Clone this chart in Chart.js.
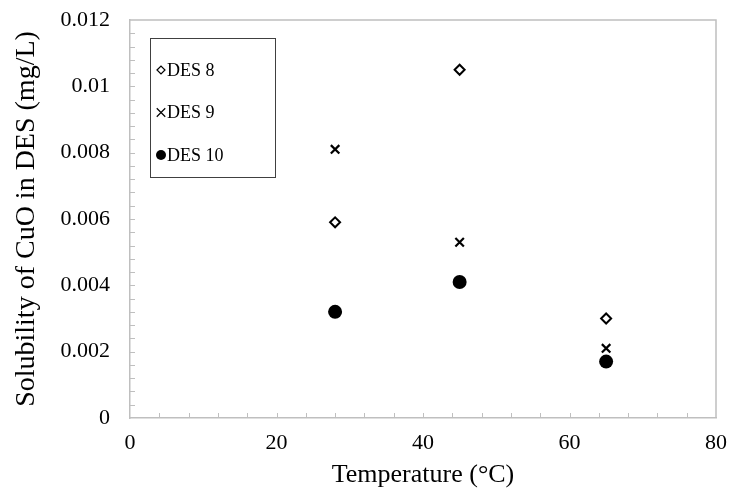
<!DOCTYPE html>
<html>
<head>
<meta charset="utf-8">
<script src="https://cdn.jsdelivr.net/npm/chart.js@4"></script>
<style>
  html, body { margin: 0; padding: 0; background: #fff; }
  #wrap { width: 731px; height: 501px; }
</style>
</head>
<body>
<div id="wrap"><canvas id="solChart" width="731" height="501"></canvas></div>
<script>
// temperatures (°C)
const temps = [28, 45, 65];
// solubility of CuO in DES (mg/L)
const des8 = [0.0059, 0.0105, 0.0030];
const des9 = [0.0081, 0.0053, 0.0021];
const des10 = [0.0032, 0.0041, 0.0017];
const seriesNames = ['DES 8', 'DES 9', 'DES 10'];
const xTicks = [0, 20, 40, 60, 80];
const yTicks = [0, 0.002, 0.004, 0.006, 0.008, 0.01, 0.012];

const FONT = "'Liberation Serif', 'Times New Roman', serif";
const AXIS_GRAY = '#bfbfbf';

function toPoints(values) {
    return temps.map((t, i) => ({ x: t, y: values[i] }));
}

// inside minor ticks + top/right border of the plot area
const frameTicks = {
    id: 'frameTicks',
    afterDatasetsDraw(chart) {
        const { ctx, chartArea: a, scales } = chart;
        ctx.save();
        ctx.strokeStyle = AXIS_GRAY;
        ctx.lineWidth = 1.5;
        ctx.beginPath();
        ctx.moveTo(a.left, a.top);
        ctx.lineTo(a.right, a.top);
        ctx.lineTo(a.right, a.bottom);
        ctx.stroke();

        ctx.lineWidth = 1;
        ctx.beginPath();
        for (let v = 4; v < 80; v += 4) {
            const px = Math.round(scales.x.getPixelForValue(v)) + 0.5;
            ctx.moveTo(px, a.bottom);
            ctx.lineTo(px, a.bottom - 5);
        }
        for (let k = 1; k < 30; k++) {
            const py = Math.round(scales.y.getPixelForValue(k * 0.0004)) + 0.5;
            ctx.moveTo(a.left, py);
            ctx.lineTo(a.left + 5, py);
        }
        ctx.stroke();
        ctx.restore();
    }
};

// boxed legend inside the plot, like the spreadsheet one
const boxLegend = {
    id: 'boxLegend',
    afterDraw(chart) {
        const { ctx, chartArea: a } = chart;
        const left = a.left + 20, top = a.top + 18;
        const w = 125, h = 139;
        ctx.save();
        ctx.fillStyle = '#fff';
        ctx.fillRect(left, top, w, h);
        ctx.strokeStyle = '#404040';
        ctx.lineWidth = 1;
        ctx.strokeRect(left + 0.5, top + 0.5, w, h);

        ctx.font = '18px ' + FONT;
        ctx.textBaseline = 'middle';
        chart.data.datasets.forEach((ds, i) => {
            const cy = top + 32 + i * 42.5;
            const cx = left + 11;
            ctx.strokeStyle = ds.borderColor;
            ctx.fillStyle = ds.backgroundColor;
            ctx.lineWidth = ds.legendBorder;
            Chart.helpers.drawPoint(ctx, {
                pointStyle: ds.pointStyle,
                radius: ds.legendRadius,
                rotation: 0,
                borderWidth: ds.legendBorder
            }, cx, cy);
            ctx.fillStyle = '#000';
            ctx.fillText(ds.label, cx + 6, cy + 1);
        });
        ctx.restore();
    }
};

new Chart(document.getElementById('solChart'), {
    type: 'scatter',
    data: {
        datasets: [
            {
                label: seriesNames[0],
                data: toPoints(des8),
                pointStyle: 'rectRot',
                pointRadius: 5,
                pointBorderWidth: 2,
                borderColor: '#000',
                backgroundColor: '#fff',
                legendRadius: 4,
                legendBorder: 1.2
            },
            {
                label: seriesNames[1],
                data: toPoints(des9),
                pointStyle: 'crossRot',
                pointRadius: 6,
                pointBorderWidth: 2.2,
                borderColor: '#000',
                backgroundColor: '#000',
                legendRadius: 6,
                legendBorder: 1.2
            },
            {
                label: seriesNames[2],
                data: toPoints(des10),
                pointStyle: 'circle',
                pointRadius: 7,
                pointBorderWidth: 0,
                borderColor: '#000',
                backgroundColor: '#000',
                legendRadius: 5,
                legendBorder: 0
            }
        ]
    },
    options: {
        responsive: false,
        animation: false,
        layout: { padding: { top: 20, right: 0, left: 0, bottom: 0 } },
        plugins: {
            legend: { display: false },
            tooltip: { enabled: false }
        },
        scales: {
            x: {
                type: 'linear',
                min: 0,
                max: 80,
                afterBuildTicks: (s) => { s.ticks = xTicks.map(v => ({ value: v })); },
                afterFit: (s) => { s.height = 83; },
                grid: { display: false },
                border: { color: AXIS_GRAY, width: 1.5 },
                ticks: {
                    color: '#000',
                    padding: 4,
                    font: { family: FONT, size: 22 }
                },
                title: {
                    display: true,
                    text: 'Temperature (°C)',
                    color: '#000',
                    font: { family: FONT, size: 26 },
                    padding: { top: 0, bottom: 10 }
                }
            },
            y: {
                type: 'linear',
                min: 0,
                max: 0.012,
                afterBuildTicks: (s) => { s.ticks = yTicks.map(v => ({ value: v })); },
                afterFit: (s) => { s.width = 130; s.paddingTop = 0; },
                grid: { display: false },
                border: { color: AXIS_GRAY, width: 1.5 },
                ticks: {
                    color: '#000',
                    padding: 12,
                    font: { family: FONT, size: 22 },
                    callback: (v) => String(+v.toFixed(3))
                },
                title: {
                    display: true,
                    text: 'Solubility of CuO in DES (mg/L)',
                    color: '#000',
                    font: { family: FONT, size: 28 },
                    padding: { top: 10, bottom: 0 }
                }
            }
        }
    },
    plugins: [frameTicks, boxLegend]
});
</script>
</body>
</html>
